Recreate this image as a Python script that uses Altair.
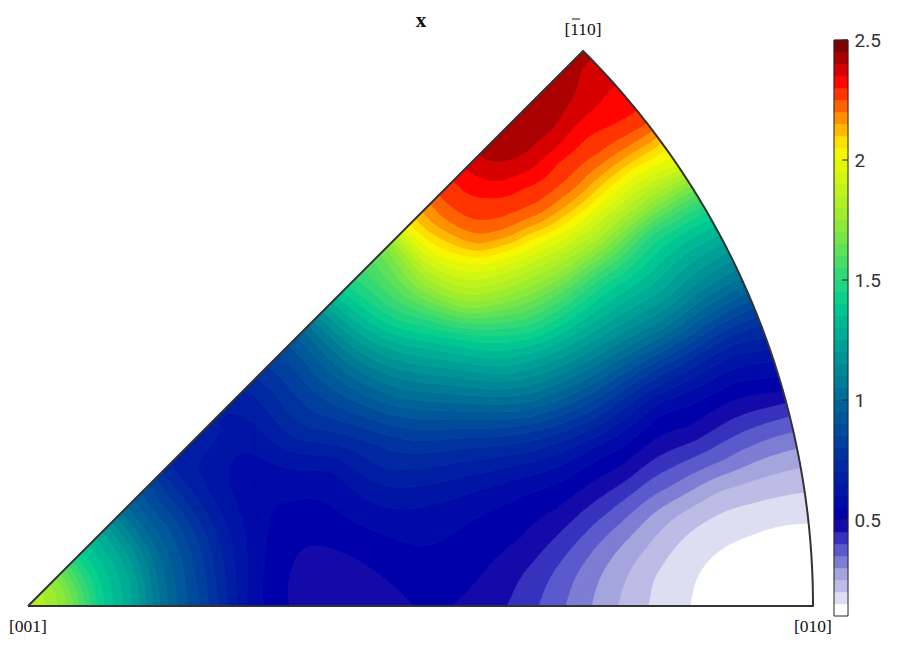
import altair as alt
import numpy as np

# ---- contour positions, in picture pixels, per level
iso_240 = [(480, 157), (500, 163), (527, 153), (557, 128), (577, 92), (581, 66)]
iso_235 = [(468, 170), (497, 182), (527, 172), (557, 147), (570, 130), (610, 87)]
iso_230 = [(457, 182), (490, 195), (523, 185), (557, 160), (587, 135), (636, 111)]
iso_225 = [(440, 198), (467, 217), (497, 218), (533, 205), (567, 180), (600, 153), (627, 135), (647, 124)]
iso_215 = [(425, 212), (450, 233), (477, 245), (510, 237), (543, 222), (583, 193), (627, 157), (656, 139)]
iso_205 = [(410, 227), (433, 243), (467, 255), (500, 252), (533, 238), (567, 222), (600, 195), (633, 168), (665, 147)]
iso_195 = [(403, 234), (425, 255), (465, 270), (505, 265), (540, 250), (575, 232), (610, 205), (645, 178), (679, 167)]
iso_175 = [(393, 241), (405, 262), (430, 288), (467, 303), (500, 297), (563, 270), (600, 245), (640, 212), (685, 182)]
iso_150 = [(355, 279), (395, 310), (430, 320), (463, 327), (500, 328), (530, 325), (565, 305), (597, 280), (650, 235), (703, 205)]
iso_125 = [(327, 307), (370, 340), (415, 355), (463, 362), (500, 367), (530, 360), (597, 330), (663, 290), (722, 245)]
iso_100 = [(304, 330), (350, 375), (400, 398), (463, 403), (530, 402), (597, 373), (663, 337), (730, 293), (745, 285)]
iso_075 = [(255, 379), (300, 425), (380, 445), (463, 448), (530, 440), (597, 417), (663, 373), (730, 337), (758, 325)]
iso_070 = [(238, 396), (300, 440), (380, 468), (463, 462), (530, 452), (597, 427), (663, 385), (730, 345), (763, 340)]
iso_060 = [(245, 606), (235, 500), (233, 457), (250, 452), (330, 470), (420, 507), (480, 490), (530, 475), (597, 445), (663, 400), (730, 370), (771, 360)]
iso_055 = [(265, 606), (267, 540), (275, 505), (290, 503), (350, 520), (420, 547), (480, 515), (530, 492), (597, 460), (663, 413), (730, 385), (775, 378)]
iso_050 = [(288, 606), (290, 573), (300, 550), (313, 545), (360, 560), (400, 590), (415, 606), (452, 604), (480, 577), (520, 540), (560, 507), (620, 467), (687, 430), (778, 392)]
iso_045 = [(508, 604), (520, 577), (543, 550), (580, 513), (627, 480), (687, 443), (783, 403)]
iso_040 = [(539, 604), (550, 577), (570, 550), (607, 513), (653, 477), (720, 443), (788, 416)]
iso_035 = [(566, 604), (575, 577), (593, 550), (627, 517), (670, 487), (720, 462), (793, 432)]
iso_030 = [(592, 604), (600, 577), (620, 547), (653, 513), (687, 493), (737, 470), (798, 448)]
iso_025 = [(618, 604), (627, 577), (647, 547), (680, 513), (720, 490), (753, 480), (802, 467)]
iso_020 = [(649, 604), (653, 580), (673, 550), (703, 523), (753, 503), (805, 492)]
iso_015 = [(691, 604), (697, 577), (720, 550), (753, 535), (807, 524)]
contours = [(2.40, iso_240), (2.35, iso_235), (2.30, iso_230), (2.25, iso_225), (2.15, iso_215), (2.05, iso_205),
            (1.95, iso_195), (1.75, iso_175), (1.50, iso_150), (1.25, iso_125), (1.00, iso_100), (.75, iso_075),
            (.70, iso_070), (.60, iso_060), (.55, iso_055), (.50, iso_050), (.45, iso_045), (.40, iso_040),
            (.35, iso_035), (.30, iso_030), (.25, iso_025), (.20, iso_020), (.15, iso_015)]
# single spots read by colour
spot_x = [583, 530, 505, 340, 433, 760, 813, 790, 550, 28, 200, 220, 240]
spot_y = [51, 104, 129, 590, 606, 580, 606, 560, 100, 606, 434, 414, 394]
spot_v = [2.42, 2.43, 2.43, .475, .51, .11, .09, .10, 2.43, 1.85, .70, .65, .66]
# rings around [001]: radius px and value, same around the whole corner
ring_r = [39, 72, 105, 139, 172, 205]
ring_v = [1.70, 1.42, 1.25, 1.00, .85, .68]
ring_deg = [0, 15, 30, 45]

levels = [round(0.1 + 0.05 * i, 2) for i in range(49)]
color_stops = [.125, .175, .225, .275, .325, .375, .425, .475, .525, .75, 1.0, 1.25, 1.4, 1.5, 1.75, 2.0, 2.05, 2.17, 2.33, 2.425, 2.5]
color_r = [255, 222, 188, 165, 125, 90, 55, 20, 0, 0, 0, 0, 0, 40, 150, 235, 255, 255, 255, 170, 110]
color_g = [255, 222, 188, 165, 125, 90, 50, 10, 0, 45, 105, 165, 205, 215, 235, 250, 245, 150, 0, 0, 0]
color_b = [255, 242, 230, 222, 212, 205, 190, 170, 170, 160, 150, 150, 145, 125, 50, 5, 0, 0, 0, 0, 0]
bar_ticks = [0.5, 1, 1.5, 2, 2.5]
corner_labels = [("[001]", 28, 627), ("[010]", 813, 627), ("[110]", 583, 30)]

OX, OY, R = 28.0, 606.0, 785.0
pts = []
for lev, line in contours:
    pts += [((x - OX) / R, (OY - y) / R, lev) for x, y in line]
pts += [((x - OX) / R, (OY - y) / R, v) for x, y, v in zip(spot_x, spot_y, spot_v)]
for r, v in zip(ring_r, ring_v):
    for d in ring_deg:
        pts.append((r / R * np.cos(np.radians(d)), r / R * np.sin(np.radians(d)), v))
pts = np.array(pts)


def kernel(a, b):
    d2 = ((a[:, None, :] - b[None, :, :]) ** 2).sum(-1)
    return 0.5 * d2 * np.log(d2 + 1e-12)


P = pts[:, :2]
n = len(P)
A = kernel(P, P) + 4e-4 * np.eye(n)
Q = np.c_[np.ones(n), P]
M = np.block([[A, Q], [Q.T, np.zeros((3, 3))]])
sol = np.linalg.solve(M, np.r_[pts[:, 2], np.zeros(3)])

r_q = np.linspace(0, 1, 131)
t_q = np.radians(np.linspace(0, 45, 91))
X = r_q[None, :] * np.cos(t_q)[:, None]
Y = r_q[None, :] * np.sin(t_q)[:, None]
G = np.c_[X.ravel(), Y.ravel()]
F = (kernel(G, P) @ sol[:n] + np.c_[np.ones(len(G)), G] @ sol[n:]).reshape(X.shape)


def clip(poly, lo, hi):
    for bound, keep_above in ((lo, True), (hi, False)):
        out = []
        for i in range(len(poly)):
            a, b = poly[i], poly[(i + 1) % len(poly)]
            ina = a[2] >= bound if keep_above else a[2] <= bound
            inb = b[2] >= bound if keep_above else b[2] <= bound
            if ina:
                out.append(a)
            if ina != inb:
                s = (bound - a[2]) / (b[2] - a[2])
                out.append((a[0] + s * (b[0] - a[0]), a[1] + s * (b[1] - a[1]), bound))
        poly = out
        if not poly:
            return []
    return poly


def band_color(v):
    c = [int(round(np.interp(v, color_stops, ch))) for ch in (color_r, color_g, color_b)]
    return "#%02x%02x%02x" % tuple(c)


n_bands = len(levels) - 1
lows = [-9.0] + levels[1:-1]
highs = levels[1:-1] + [9.0]
polys = [[] for _ in range(n_bands)]
for i in range(F.shape[0] - 1):
    for j in range(F.shape[1] - 1):
        corners = [(X[i, j], Y[i, j], F[i, j]), (X[i, j + 1], Y[i, j + 1], F[i, j + 1]),
                   (X[i + 1, j + 1], Y[i + 1, j + 1], F[i + 1, j + 1]), (X[i + 1, j], Y[i + 1, j], F[i + 1, j])]
        for tri in (corners[:3], [corners[0], corners[2], corners[3]]):
            vals = [p[2] for p in tri]
            mn, mx = min(vals), max(vals)
            b0 = int(np.clip((mn - 0.1) // 0.05, 0, n_bands - 1))
            b1 = int(np.clip((mx - 0.1) // 0.05, 0, n_bands - 1))
            for b in range(b0, b1 + 1):
                p = tri if b0 == b1 else clip(tri, lows[b], highs[b])
                if len(p) >= 3:
                    ring = [[round(float(q[0]), 4), round(float(q[1]), 4)] for q in p]
                    ring.append(ring[0])
                    polys[b].append([ring])

features = []
for b in range(n_bands):
    if polys[b]:
        features.append({"type": "Feature", "geometry": {"type": "MultiPolygon", "coordinates": polys[b]},
                         "properties": {"color": band_color((levels[b] + levels[b + 1]) / 2)}})

arc = [[round(float(np.cos(np.radians(a))), 5), round(float(np.sin(np.radians(a))), 5)] for a in np.linspace(0, 45, 181)]
outline = {"type": "Feature", "properties": {},
           "geometry": {"type": "LineString", "coordinates": [[0, 0]] + arc + [[0, 0]]}}

proj = alt.Projection(type="identity", reflectY=True, scale=R, translate=[20, 598])
field = alt.Chart(alt.Data(values=features)).mark_geoshape(strokeWidth=0.7).encode(
    fill=alt.Fill("properties.color:N", scale=None),
    stroke=alt.Stroke("properties.color:N", scale=None),
).project(**proj.to_dict())
edge = alt.Chart(alt.Data(values=[outline])).mark_geoshape(
    filled=False, stroke="#333333", strokeWidth=2, strokeJoin="round"
).project(**proj.to_dict())

layers = [field, edge]
for text, px, py in corner_labels:
    layers.append(alt.Chart(alt.Data(values=[{"t": text}])).mark_text(
        font="Liberation Serif", fontSize=17.5, color="#111111", baseline="middle", align="center"
    ).encode(text="t:N", x=alt.value(px - 8), y=alt.value(py - 8)))
layers.append(alt.Chart(alt.Data(values=[{"t": "bar"}])).mark_rule(stroke="#111111", strokeWidth=1).encode(
    x=alt.value(564), x2=alt.value(572), y=alt.value(11)))
layers.append(alt.Chart(alt.Data(values=[{"t": "x"}])).mark_text(
    font="Liberation Serif", fontSize=21, fontWeight="bold", color="#111111", baseline="middle", align="center"
).encode(text="t:N", x=alt.value(413), y=alt.value(13)))
left = alt.layer(*layers).properties(width=825, height=632)

bar_rows = [{"lo": levels[i], "hi": levels[i + 1], "c": band_color((levels[i] + levels[i + 1]) / 2)} for i in range(n_bands)]
y_scale = alt.Scale(domain=[0, 2.5 + 32 / 240], range=[632, 0], nice=False, zero=False)
bar = alt.Chart(alt.Data(values=bar_rows)).mark_rect(strokeWidth=0.5).encode(
    x=alt.value(0), x2=alt.value(14),
    y=alt.Y("lo:Q", scale=y_scale, axis=alt.Axis(
        orient="right", values=bar_ticks, format="~g", title=None, domain=False, ticks=False, grid=False,
        labelFont="Roboto", labelFontSize=19, labelColor="#333333", labelPadding=6)),
    y2="hi:Q",
    fill=alt.Fill("c:N", scale=None),
    stroke=alt.Stroke("c:N", scale=None),
)
box = alt.Chart(alt.Data(values=[{"lo": levels[0], "hi": levels[-1]}])).mark_rect(
    filled=False, stroke="#262626", strokeWidth=1
).encode(x=alt.value(0), x2=alt.value(14), y=alt.Y("lo:Q", scale=y_scale), y2="hi:Q")
tick = alt.Chart(alt.Data(values=[{"v": v} for v in bar_ticks])).mark_rule(
    stroke="#262626", strokeWidth=1
).encode(x=alt.value(8), x2=alt.value(14), y=alt.Y("v:Q", scale=y_scale))
right = alt.layer(bar, box, tick).properties(width=14, height=632)

chart = alt.hconcat(left, right, spacing=0).properties(padding=0).configure_view(stroke=None)
chart.save("out.html", embed_options={"renderer": "svg", "actions": False})
